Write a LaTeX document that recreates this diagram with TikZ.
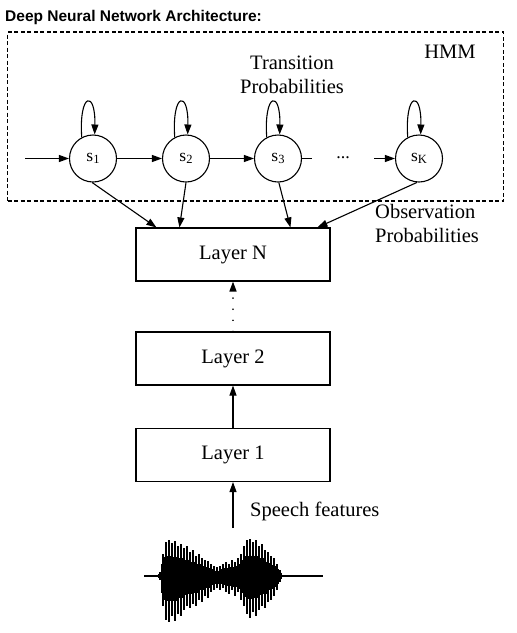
\documentclass[tikz,border=0pt]{standalone}
\usepackage{fontspec}
\setmainfont{Liberation Serif}
\newfontfamily\titlefont{Liberation Sans}
\usetikzlibrary{arrows.meta,calc}
\begin{document}
\begin{tikzpicture}[x=1pt,y=-1pt,
  lbl/.style={font=\fontsize{20.5}{24}\selectfont, inner sep=0pt},
  state/.style={circle, draw, line width=1.1pt, minimum size=47pt, inner sep=0pt, font=\fontsize{17.5}{20}\selectfont},
  layerbox/.style={draw, line width=1.1pt, minimum width=194pt, minimum height=53pt, inner sep=0pt, font=\fontsize{20.5}{24}\selectfont},
  arr/.style={line width=1.1pt, -{Triangle[length=10pt,width=7pt]}},
  plain/.style={line width=1.1pt},
  wave/.style={line width=1.4pt},
  core/.style={line width=3.4pt}]
\useasboundingbox (0,0) rectangle (517,633);
% title
\node[anchor=west, inner sep=0pt, font=\titlefont\bfseries\fontsize{15.5}{18}\selectfont] (title) at (5,17) {Deep Neural Network Architecture:};
% HMM dashed box
\node[draw, dashed, dash pattern=on 4pt off 2.5pt, line width=1.1pt, minimum width=496pt, minimum height=169pt, inner sep=0pt] (hmmbox) at (255.5,116.5) {};
\node[lbl] (hmm) at (450,52) {HMM};
\node[lbl, align=center] (trans) at (292,75) {Transition\\Probabilities};
% states
\newcommand{\sub}[1]{\raisebox{-2.5pt}{\fontsize{12.5}{12}\selectfont #1}}
\node[state] (s1) at (93,158.5) {s\sub{1}};
\node[state] (s2) at (186,158.5) {s\sub{2}};
\node[state] (s3) at (278,158.5) {s\sub{3}};
\node[state] (sK) at (419,158.5) {s\sub{K}};
\node[inner sep=0pt, font=\fontsize{18}{20}\selectfont] (dots) at (343,158) {...};
\coordinate (in) at (25,158.5);
\coordinate (s3out) at (312,158.5);
\coordinate (sKin) at (374,158.5);
\draw[arr] (in) -- (s1);
\draw[arr] (s1) -- (s2);
\draw[arr] (s2) -- (s3);
\draw[plain] (s3) -- (s3out);
\draw[arr] (sKin) -- (sK);
% self loops
\foreach \s in {s1,s2,s3,sK}{
  \draw[arr] (\s.118) .. controls +(-3,-45) and +(1,-45) .. (\s.86);
}
% layers
\node[layerbox] (LN) at (233,254.5) {Layer N};
\node[layerbox] (L2) at (233,358.5) {Layer 2};
\node[layerbox] (L1) at (233,455) {Layer 1};
\node[lbl, align=left, anchor=north west] (obs) at (375,204) {Observation\\Probabilities};
% observation arrows
\draw[arr] (s1.-92) -- ($(LN.north west)+(21,0)$);
\draw[arr] (s2.-90) -- ($(LN.north west)+(44,0)$);
\draw[arr] (s3.-88) -- ($(LN.north west)+(155,0)$);
\draw[arr] (sK.-95) -- ($(LN.north west)+(182,0)$);
% layer connections
\draw[line width=1.5pt, line cap=round, dash pattern=on 0.1pt off 11pt, -{Triangle[length=10pt,width=7pt]}] (L2.north) -- (LN.south);
\draw[arr] (L2.south |- L1.north) -- (L2.south);
\coordinate (feat) at (233,528);
\draw[arr] (feat) -- (L1.south);
\node[lbl, anchor=west] (speech) at (250,511) {Speech features};
% waveform
\coordinate (wl) at (144,576);
\coordinate (wr) at (323,576);
\draw[line width=1.4pt] (wl) -- (wr);
\foreach \x/\u/\d in {160/4/4,163/22/30,166/34/44,169/36/46,172/33/40,175/35/45,178/30/38,181/32/40,184/28/34,187/30/30,190/24/32,193/26/28,196/20/30,199/22/24,202/18/26,205/16/20,208/15/22,211/12/16,214/10/14,217/9/12,220/10/14,223/12/12,226/14/16,229/12/18,232/16/14,235/14/20,238/18/16,241/22/24,244/30/30,247/36/38,250/37/42,253/34/36,256/36/40,259/30/34,262/32/30,265/26/32,268/24/26,271/20/24,274/18/20,277/12/14,280/6/6}{
  \draw[wave] (\x,576-\u) -- (\x,576+\d);
  \draw[core] (\x,576-0.55*\u) -- (\x,576+0.55*\d);
}
\end{tikzpicture}
\end{document}
